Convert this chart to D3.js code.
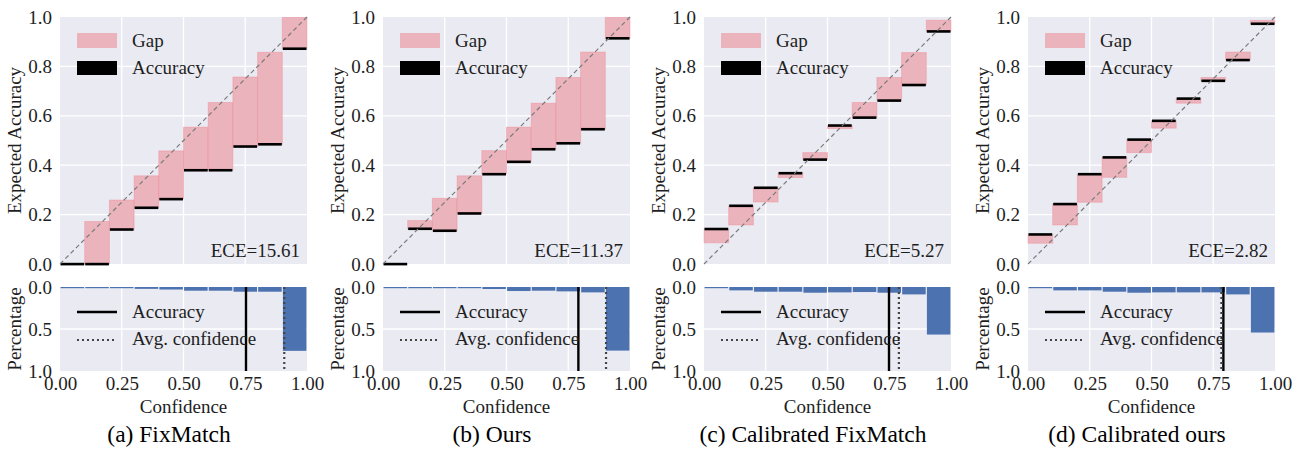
<!DOCTYPE html>
<html lang="en">
<head>
<meta charset="utf-8">
<script src="https://cdn.jsdelivr.net/npm/d3@7/dist/d3.min.js"></script>
<style>
body { margin: 0; background: #fff; }
text { font-family: "Liberation Serif", "Times New Roman", serif; }
</style>
<title>Reliability diagrams</title>
</head>
<body>
<script>

var w = 1301;
var h = 449;

// bins and ticks
var binStarts = [0.0, 0.1, 0.2, 0.3, 0.4, 0.5, 0.6, 0.7, 0.8, 0.9];
var topYTicks = [0.0, 0.2, 0.4, 0.6, 0.8, 1.0];
var histYTicks = [0.0, 0.5, 1.0];
var xTicks = [0.0, 0.25, 0.5, 0.75, 1.0];

var captions = ["(a) FixMatch", "(b) Ours", "(c) Calibrated FixMatch", "(d) Calibrated ours"];
var eceLabels = ["ECE=15.61", "ECE=11.37", "ECE=5.27", "ECE=2.82"];

// (a) FixMatch
var confFixMatch = [0.0, 0.172, 0.259, 0.357, 0.458, 0.554, 0.654, 0.757, 0.857, 0.998];
var accFixMatch  = [0.0, 0.0, 0.14, 0.228, 0.263, 0.38, 0.38, 0.476, 0.485, 0.872];
var histFixMatch = [0.014, 0.014, 0.014, 0.022, 0.03, 0.044, 0.044, 0.056, 0.056, 0.76];

// (b) Ours
var confOurs = [0.0, 0.176, 0.266, 0.357, 0.459, 0.554, 0.651, 0.755, 0.858, 0.998];
var accOurs  = [0.0, 0.143, 0.135, 0.205, 0.364, 0.414, 0.465, 0.489, 0.546, 0.914];
var histOurs = [0.006, 0.008, 0.008, 0.014, 0.024, 0.048, 0.044, 0.052, 0.064, 0.757];

// (c) Calibrated FixMatch
var confCalFixMatch = [0.086, 0.158, 0.251, 0.35, 0.451, 0.548, 0.654, 0.755, 0.856, 0.987];
var accCalFixMatch  = [0.142, 0.236, 0.309, 0.368, 0.423, 0.561, 0.593, 0.662, 0.725, 0.942];
var histCalFixMatch = [0.006, 0.04, 0.056, 0.056, 0.068, 0.064, 0.06, 0.068, 0.088, 0.566];

// (d) Calibrated ours
var confCalOurs = [0.084, 0.158, 0.25, 0.351, 0.451, 0.55, 0.651, 0.755, 0.858, 0.986];
var accCalOurs  = [0.12, 0.243, 0.364, 0.432, 0.504, 0.58, 0.67, 0.742, 0.826, 0.973];
var histCalOurs = [0.006, 0.04, 0.04, 0.056, 0.068, 0.064, 0.064, 0.064, 0.088, 0.542];

// overall accuracy / average confidence lines
var overallAcc  = [0.753, 0.791, 0.749, 0.791];
var overallConf = [0.908, 0.903, 0.789, 0.783];

var panels = [
  {conf: confFixMatch, acc: accFixMatch, hist: histFixMatch},
  {conf: confOurs, acc: accOurs, hist: histOurs},
  {conf: confCalFixMatch, acc: accCalFixMatch, hist: histCalFixMatch},
  {conf: confCalOurs, acc: accCalOurs, hist: histCalOurs}
];

var panelLeft = [60, 383, 704, 1028];
var pw = 247;
var bg = "#eaeaf2";
var gapFill = "#ebb4bc";
var barBlue = "#4c72b0";
var txt = "#1e1e1e";
var fs = 19;

var svg = d3.select("body").append("svg")
  .attr("width", w)
  .attr("height", h);

var topY = d3.scaleLinear().domain([0, 1]).range([264, 17]);
var histY = d3.scaleLinear().domain([0, 1]).range([287, 371]);

panels.forEach(function(p, k) {
  var x0 = panelLeft[k];
  var x = d3.scaleLinear().domain([0, 1]).range([x0, x0 + pw]);
  var g = svg.append("g");

  // ---- reliability diagram ----
  g.append("rect").attr("x", x0).attr("y", topY(1)).attr("width", pw)
    .attr("height", topY(0) - topY(1)).attr("fill", bg);

  g.selectAll(".gx").data(xTicks.slice(1, 4)).enter().append("line")
    .attr("x1", function(d){ return x(d); }).attr("x2", function(d){ return x(d); })
    .attr("y1", topY(0)).attr("y2", topY(1))
    .attr("stroke", "#fff").attr("stroke-width", 1.3);
  g.selectAll(".gy").data(topYTicks.slice(1, 5)).enter().append("line")
    .attr("x1", x0).attr("x2", x0 + pw)
    .attr("y1", function(d){ return topY(d); }).attr("y2", function(d){ return topY(d); })
    .attr("stroke", "#fff").attr("stroke-width", 1.3);

  // gap bars
  g.selectAll(".gap").data(binStarts).enter().append("rect")
    .attr("x", function(d){ return x(d); })
    .attr("width", x(0.1) - x(0))
    .attr("y", function(d, i){ return topY(Math.max(p.conf[i], p.acc[i])); })
    .attr("height", function(d, i){ return Math.abs(topY(p.conf[i]) - topY(p.acc[i])); })
    .attr("fill", gapFill)
    .attr("stroke", "rgba(240,120,135,0.35)")
    .attr("stroke-width", 1);

  // accuracy lines
  g.selectAll(".acc").data(binStarts).enter().append("rect")
    .attr("x", function(d){ return x(d) + 0.5; })
    .attr("width", x(0.1) - x(0) - 1)
    .attr("y", function(d, i){ return topY(p.acc[i]) - 1.2; })
    .attr("height", 2.6)
    .attr("fill", "#000");

  // diagonal
  g.append("line")
    .attr("x1", x(0)).attr("y1", topY(0)).attr("x2", x(1)).attr("y2", topY(1))
    .attr("stroke", "#7a7a7a").attr("stroke-width", 1.2)
    .attr("stroke-dasharray", "4.5,3");

  var yAxis = d3.axisLeft(topY).tickValues(topYTicks).tickFormat(d3.format(".1f"))
    .tickSize(0).tickPadding(8);
  g.append("g").attr("transform", "translate(" + x0 + ",0)").call(yAxis)
    .call(function(a){ a.select(".domain").remove(); })
    .selectAll("text").style("font-size", fs + "px").attr("fill", txt);

  g.append("text")
    .attr("transform", "translate(" + (x0 - 39) + "," + ((topY(0) + topY(1)) / 2) + ") rotate(-90)")
    .attr("text-anchor", "middle")
    .style("font-size", fs + "px").attr("fill", txt)
    .text("Expected Accuracy");

  // legend
  g.append("rect").attr("x", x0 + 17).attr("y", 33).attr("width", 40).attr("height", 15)
    .attr("fill", gapFill);
  g.append("text").attr("x", x0 + 72).attr("y", 47).style("font-size", fs + "px")
    .attr("fill", txt).text("Gap");
  g.append("rect").attr("x", x0 + 17).attr("y", 61).attr("width", 40).attr("height", 14)
    .attr("fill", "#000");
  g.append("text").attr("x", x0 + 72).attr("y", 74).style("font-size", fs + "px")
    .attr("fill", txt).text("Accuracy");

  g.append("text").attr("x", x0 + 240).attr("y", 257).attr("text-anchor", "end")
    .style("font-size", fs + "px").attr("fill", txt).text(eceLabels[k]);

  // ---- confidence histogram ----
  g.append("rect").attr("x", x0).attr("y", histY(0)).attr("width", pw)
    .attr("height", histY(1) - histY(0)).attr("fill", bg);
  g.selectAll(".hx").data(xTicks.slice(1, 4)).enter().append("line")
    .attr("x1", function(d){ return x(d); }).attr("x2", function(d){ return x(d); })
    .attr("y1", histY(0)).attr("y2", histY(1))
    .attr("stroke", "#fff").attr("stroke-width", 1.3);
  g.append("line").attr("x1", x0).attr("x2", x0 + pw)
    .attr("y1", histY(0.5)).attr("y2", histY(0.5))
    .attr("stroke", "#fff").attr("stroke-width", 1.3);

  g.selectAll(".bar").data(binStarts).enter().append("rect")
    .attr("x", function(d){ return x(d) + 0.6; })
    .attr("width", x(0.1) - x(0) - 1.2)
    .attr("y", histY(0))
    .attr("height", function(d, i){ return Math.max(histY(p.hist[i]) - histY(0), 1.2); })
    .attr("fill", barBlue);

  g.append("line")
    .attr("x1", x(overallAcc[k])).attr("x2", x(overallAcc[k]))
    .attr("y1", histY(0)).attr("y2", histY(1))
    .attr("stroke", "#000").attr("stroke-width", 2.4);
  g.append("line")
    .attr("x1", x(overallConf[k])).attr("x2", x(overallConf[k]))
    .attr("y1", histY(0)).attr("y2", histY(1))
    .attr("stroke", "#444").attr("stroke-width", 2.2)
    .attr("stroke-dasharray", "2,3");

  var hyAxis = d3.axisLeft(histY).tickValues(histYTicks).tickFormat(d3.format(".1f"))
    .tickSize(0).tickPadding(8);
  g.append("g").attr("transform", "translate(" + x0 + ",0)").call(hyAxis)
    .call(function(a){ a.select(".domain").remove(); })
    .selectAll("text").style("font-size", fs + "px").attr("fill", txt);

  var xAxis = d3.axisBottom(x).tickValues(xTicks).tickFormat(d3.format(".2f"))
    .tickSize(0).tickPadding(6);
  g.append("g").attr("transform", "translate(0," + histY(1) + ")").call(xAxis)
    .call(function(a){ a.select(".domain").remove(); })
    .selectAll("text").style("font-size", fs + "px").attr("fill", txt);

  g.append("text")
    .attr("transform", "translate(" + (x0 - 39) + "," + ((histY(0) + histY(1)) / 2) + ") rotate(-90)")
    .attr("text-anchor", "middle")
    .style("font-size", fs + "px").attr("fill", txt)
    .text("Percentage");

  g.append("text").attr("x", x0 + pw / 2).attr("y", 413).attr("text-anchor", "middle")
    .style("font-size", fs + "px").attr("fill", txt).text("Confidence");

  // bottom legend
  g.append("line").attr("x1", x0 + 17).attr("x2", x0 + 57).attr("y1", 312).attr("y2", 312)
    .attr("stroke", "#000").attr("stroke-width", 2.4);
  g.append("text").attr("x", x0 + 72).attr("y", 318).style("font-size", fs + "px")
    .attr("fill", txt).text("Accuracy");
  g.append("line").attr("x1", x0 + 17).attr("x2", x0 + 57).attr("y1", 340).attr("y2", 340)
    .attr("stroke", "#444").attr("stroke-width", 2.2).attr("stroke-dasharray", "2,3");
  g.append("text").attr("x", x0 + 72).attr("y", 345).style("font-size", fs + "px")
    .attr("fill", txt).text("Avg. confidence");

  // caption
  g.append("text").attr("x", x0 + 109).attr("y", 442).attr("text-anchor", "middle")
    .style("font-size", "23.5px").attr("fill", "#000").text(captions[k]);
});

</script>
</body>
</html>
